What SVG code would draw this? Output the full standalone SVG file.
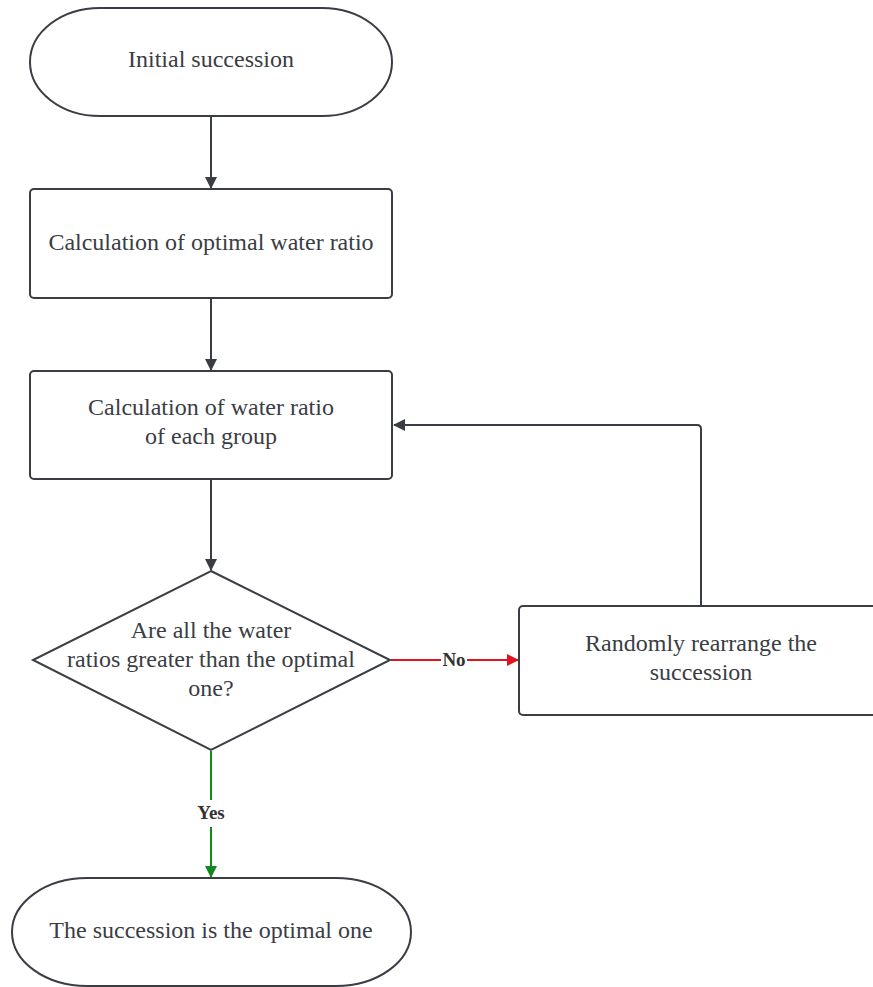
<svg xmlns="http://www.w3.org/2000/svg" width="873" height="987" viewBox="0 0 873 987">
<defs>
<style>
.n{fill:#fff;stroke:#3a3d44;stroke-width:2}
.t{font-family:"Liberation Serif","Times New Roman",serif;font-size:24px;fill:#3a3d44;text-anchor:middle}
.c{fill:none;stroke:#3a3d44;stroke-width:2}
.lb{font-family:"Liberation Serif","Times New Roman",serif;font-size:19px;font-weight:bold;fill:#333;text-anchor:middle}
</style>
<marker id="ad" markerWidth="12" markerHeight="12" refX="11" refY="6" orient="auto" markerUnits="userSpaceOnUse"><path d="M0,0 L12,6 L0,12 z" fill="#3a3d44"/></marker>
<marker id="ar" markerWidth="12" markerHeight="12" refX="11" refY="6" orient="auto" markerUnits="userSpaceOnUse"><path d="M0,0 L12,6 L0,12 z" fill="#e0141e"/></marker>
<marker id="ag" markerWidth="12" markerHeight="12" refX="11" refY="6" orient="auto" markerUnits="userSpaceOnUse"><path d="M0,0 L12,6 L0,12 z" fill="#12891e"/></marker>
</defs>
<rect width="873" height="987" fill="#fff"/>
<g id="connectors">
<line class="c" x1="211" y1="117" x2="211" y2="188" marker-end="url(#ad)"/>
<line class="c" x1="211" y1="299" x2="211" y2="370" marker-end="url(#ad)"/>
<line class="c" x1="211" y1="480" x2="211" y2="570" marker-end="url(#ad)"/>
<path class="c" d="M701,606 V429 Q701,425 697,425 H394" marker-end="url(#ad)"/>
<line x1="391" y1="660" x2="441" y2="660" stroke="#e0141e" stroke-width="2"/>
<line x1="467" y1="660" x2="518" y2="660" stroke="#e0141e" stroke-width="2" marker-end="url(#ar)"/>
<text class="lb" x="454" y="666">No</text>
<line x1="211" y1="751" x2="211" y2="800" stroke="#12891e" stroke-width="2"/>
<line x1="211" y1="827" x2="211" y2="877" stroke="#12891e" stroke-width="2" marker-end="url(#ag)"/>
<text class="lb" x="211" y="819">Yes</text>
</g>
<g id="start">
<rect class="n" x="30" y="8" width="362" height="108" rx="70" ry="54"/>
<text class="t" x="211" y="67">Initial succession</text>
</g>
<g id="optimal">
<rect class="n" x="30" y="189" width="362" height="109" rx="4"/>
<text class="t" x="211" y="250">Calculation of optimal water ratio</text>
</g>
<g id="each">
<rect class="n" x="30" y="371" width="362" height="108" rx="4"/>
<text class="t" x="211" y="415">Calculation of water ratio</text>
<text class="t" x="211" y="444">of each group</text>
</g>
<g id="decision">
<polygon class="n" points="211,571 390,660 211,750 33,660"/>
<text class="t" x="211" y="638">Are all the water</text>
<text class="t" x="211" y="667">ratios greater than the optimal</text>
<text class="t" x="211" y="696">one?</text>
</g>
<g id="rearrange">
<rect class="n" x="519" y="606" width="362" height="109" rx="4"/>
<text class="t" x="701" y="651">Randomly rearrange the</text>
<text class="t" x="701" y="680">succession</text>
</g>
<g id="end">
<rect class="n" x="12" y="878" width="399" height="108" rx="75" ry="54"/>
<text class="t" x="211" y="938">The succession is the optimal one</text>
</g>
</svg>
